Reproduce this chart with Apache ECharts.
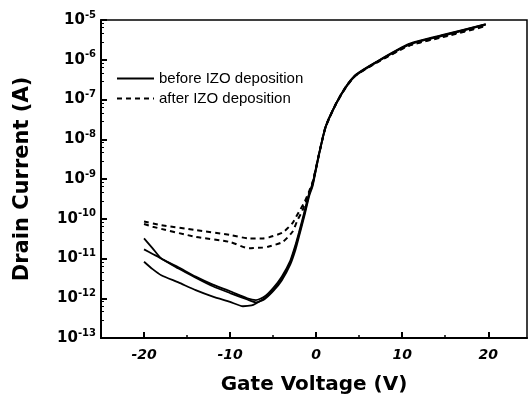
<!DOCTYPE html>
<html>
<head>
<meta charset="utf-8">
<script src="https://cdn.jsdelivr.net/npm/echarts@6/dist/echarts.min.js"></script>
<style>html,body{margin:0;padding:0;background:#fff}#c{width:531px;height:401px}</style>
</head>
<body>
<div id="c"></div>
<script>
// ---- data (gate voltage V, drain current A) ----
var seriesNames = ['before IZO deposition', 'after IZO deposition'];
var xTickValues = [-20, -10, 0, 10, 20];
var xMinorTickValues = [-15, -5, 5, 15];
var yExponents = ['-13', '-12', '-11', '-10', '-9', '-8', '-7', '-6', '-5'];

var beforeV1 = [-20,-19,-18,-16,-14,-12,-10,-8,-7,-6,-5,-4,-3,-2.4,-2,-1.4,-0.8,-0.4,0,0.35,1.1,2.3,3.45,4.6,7,10.8,14.7,19.7];
var beforeI1 = [3.2e-11,1.8e-11,1.0e-11,6.0e-12,3.5e-12,2.2e-12,1.5e-12,1.0e-12,9.0e-13,1.1e-12,1.8e-12,3.5e-12,8.9e-12,2.2e-11,4.5e-11,1.4e-10,4.5e-10,7.9e-10,2.0e-9,4.5e-9,2.1e-8,7.9e-8,2.1e-7,4.2e-7,8.9e-7,2.5e-6,4.2e-6,7.9e-6];

var beforeV2 = [-20,-19,-18,-16,-14,-12,-10,-8,-7,-6,-5,-4,-3,-2.4,-2,-1.4,-0.8,-0.4,0,0.35,1.1,2.3,3.45,4.6,7,10.8,14.7,19.7];
var beforeI2 = [1.7e-11,1.3e-11,1.0e-11,5.6e-12,3.3e-12,2.0e-12,1.35e-12,9.3e-13,7.9e-13,9.5e-13,1.5e-12,2.8e-12,7.1e-12,1.66e-11,3.5e-11,1.1e-10,3.8e-10,6.8e-10,1.8e-9,4.2e-9,2.0e-8,7.6e-8,2.0e-7,4.0e-7,8.6e-7,2.4e-6,4.0e-6,7.6e-6];

var beforeV3 = [-20,-19,-18,-16,-14,-12,-10,-8.5,-7.5,-7,-6,-5,-4,-3,-2.4,-2,-1.4,-0.8,-0.4,0,0.35,1.1,2.3,3.45,4.6,7,10.8,14.7,19.7];
var beforeI3 = [8.3e-12,5.4e-12,3.8e-12,2.5e-12,1.6e-12,1.1e-12,8.1e-13,6.3e-13,6.6e-13,7.4e-13,1.0e-12,1.6e-12,3.2e-12,8.0e-12,2.0e-11,4.0e-11,1.25e-10,4.2e-10,7.4e-10,1.9e-9,4.4e-9,2.05e-8,7.8e-8,2.05e-7,4.1e-7,8.8e-7,2.45e-6,4.1e-6,7.8e-6];

var afterV1 = [-20,-18,-14,-10,-7.8,-6.2,-5.5,-3.9,-2.75,-2,-1.4,-0.8,-0.4,0,0.35,1.1,2.3,3.45,4.6,7,10.8,14.7,19.7];
var afterI1 = [8.5e-11,6.9e-11,5.2e-11,3.9e-11,3.2e-11,3.2e-11,3.4e-11,4.5e-11,7.8e-11,1.5e-10,2.5e-10,5.0e-10,8.5e-10,2.0e-9,4.5e-9,2.1e-8,7.9e-8,2.1e-7,4.1e-7,8.5e-7,2.3e-6,3.8e-6,7.2e-6];

var afterV2 = [-20,-19,-14,-10,-7.8,-6.2,-5.5,-3.9,-2.75,-2.2,-1.6,-1.0,-0.5,0,0.35,1.1,2.3,3.45,4.6,7,10.8,14.7,19.7];
var afterI2 = [7.4e-11,6.3e-11,3.5e-11,2.6e-11,1.8e-11,1.9e-11,2.0e-11,2.6e-11,4.7e-11,8.9e-11,1.6e-10,3.5e-10,7.0e-10,1.9e-9,4.3e-9,2.0e-8,7.6e-8,2.0e-7,4.0e-7,8.3e-7,2.25e-6,3.7e-6,7.0e-6];

function pairs(xs, ys) { return xs.map(function (x, i) { return [x, ys[i]]; }); }

var solidStyle = { color: '#000', width: 1.8, type: 'solid' };
var dashStyle = { color: '#000', width: 2, type: [5, 4] };
function mk(name, xs, ys, style) {
  return { name: name, type: 'line', xAxisIndex: 0, yAxisIndex: 0, data: pairs(xs, ys), showSymbol: false, symbol: 'none',
           smooth: 0.2, lineStyle: style, itemStyle: { color: '#000' }, animation: false };
}
var BOLD = 'DejaVu Sans, Arial, sans-serif';
var REG = 'Liberation Sans, Arial, sans-serif';

var chart = echarts.init(document.getElementById('c'), null, { renderer: 'canvas' });
chart.setOption({
  backgroundColor: '#fff',
  animation: false,
  grid: { left: 101, right: 4, top: 20, bottom: 63, show: true, borderColor: '#000', borderWidth: 1.5 },
  legend: {
    data: seriesNames, orient: 'vertical', left: 111, top: 66, itemWidth: 37, itemHeight: 12, itemGap: 5,
    itemStyle: { color: 'rgba(0,0,0,0)', borderWidth: 0, opacity: 0 },
    textStyle: { fontFamily: REG, fontSize: 15, color: '#000' }
  },
  xAxis: [{
    type: 'value', min: -25, max: 24.5,
    name: 'Gate Voltage (V)', nameLocation: 'middle', nameGap: 37,
    nameTextStyle: { fontFamily: BOLD, fontWeight: 'bold', fontSize: 20, color: '#000' },
    axisLine: { show: true, onZero: false, lineStyle: { color: '#000', width: 2 } },
    axisTick: { show: true, inside: true, length: 6, customValues: xTickValues, lineStyle: { color: '#000', width: 2 } },
    axisLabel: { customValues: xTickValues, margin: 10, fontFamily: BOLD, fontWeight: 'bold', fontStyle: 'italic', fontSize: 14, color: '#000' },
    splitLine: { show: false }
  }, {
    type: 'value', min: -25, max: 24.5, position: 'bottom',
    axisLine: { show: false, onZero: false },
    axisTick: { show: true, inside: true, length: 3, customValues: xMinorTickValues, lineStyle: { color: '#000', width: 1.5 } },
    axisLabel: { show: false }, splitLine: { show: false }
  }],
  yAxis: [{
    type: 'log', logBase: 10, min: 1e-13, max: 1e-5, position: 'left',
    name: 'Drain Current (A)', nameLocation: 'middle', nameGap: 68, nameRotate: 90,
    nameTextStyle: { fontFamily: BOLD, fontWeight: 'bold', fontSize: 21, color: '#000' },
    axisLine: { show: true, onZero: false, lineStyle: { color: '#000', width: 2 } },
    axisTick: { show: true, inside: true, length: 6, lineStyle: { color: '#000', width: 2 } },
    minorTick: { show: true, splitNumber: 5, length: 3, lineStyle: { color: '#000', width: 1 } },
    axisLabel: {
      margin: 5,
      formatter: function (v, idx) {
        var e = yExponents[idx] !== undefined ? yExponents[idx] : String(Math.round(Math.log10(v)));
        return '{b|10}{s|' + e + '}';
      },
      rich: {
        b: { fontFamily: BOLD, fontWeight: 'bold', fontSize: 15, color: '#000', lineHeight: 18 },
        s: { fontFamily: BOLD, fontWeight: 'bold', fontSize: 10, color: '#000', verticalAlign: 'top', padding: [0, 0, 10, 0] }
      }
    },
    splitLine: { show: false }
  }],
  series: [
    mk(seriesNames[0], beforeV1, beforeI1, solidStyle),
    mk(seriesNames[0], beforeV2, beforeI2, solidStyle),
    mk(seriesNames[0], beforeV3, beforeI3, solidStyle),
    mk(seriesNames[1], afterV1, afterI1, dashStyle),
    mk(seriesNames[1], afterV2, afterI2, dashStyle)
  ]
});
</script>
</body>
</html>
